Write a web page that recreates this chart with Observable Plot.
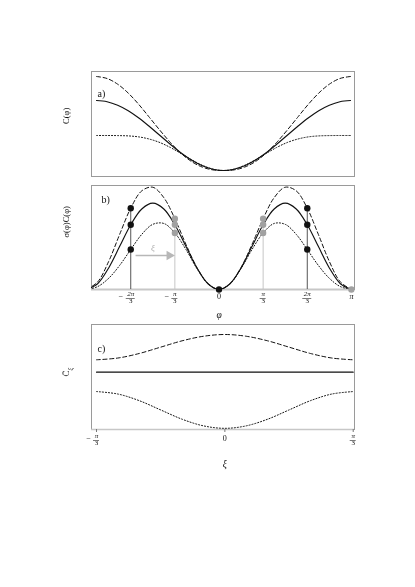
<!DOCTYPE html>
<html><head><meta charset="utf-8">
<script src="https://cdn.jsdelivr.net/npm/d3@7"></script>
<script src="https://cdn.jsdelivr.net/npm/@observablehq/plot@0.6"></script>
<style>
body{margin:0;background:#fff;}
#wrap{position:relative;width:415px;height:587px;overflow:hidden;filter:grayscale(1);}
#wrap > div{position:absolute;left:0;}
</style></head><body><div id="wrap"></div>
<script>
const PI = Math.PI;
const SERIF = "'Liberation Serif','DejaVu Serif',serif";

// ---------- panel a : C(phi), sampled every pi/12 from -pi to pi ----------
const phiSteps = [-12,-11,-10,-9,-8,-7,-6,-5,-4,-3,-2,-1,0,1,2,3,4,5,6,7,8,9,10,11,12]; // units of pi/12
const aDashed = [100,98,92.3,83.4,72,59.1,46.1,33.8,23.1,14.8,9.4,6.6,6,6.6,9.4,14.8,23.1,33.8,46.1,59.1,72,83.4,92.3,98,100];
const aSolid  = [76,74.8,71.3,65.8,58.5,50,41,32,23.5,16.2,10.7,7.2,6,7.2,10.7,16.2,23.5,32,41,50,58.5,65.8,71.3,74.8,76];
const aDotted = [41,41,40.9,40.6,39.6,37.4,33.9,28.9,22.9,16.7,11.2,7.4,6,7.4,11.2,16.7,22.9,28.9,33.9,37.4,39.6,40.6,40.9,41,41];

// ---------- panel b : sigma(phi)C(phi) ----------
const bDashed = [0,0.088,0.325,0.64,0.942,1.143,1.185,1.064,0.82,0.525,0.255,0.067,0,0.067,0.255,0.525,0.82,1.064,1.185,1.143,0.942,0.64,0.325,0.088,0];
const bSolid  = [0,0.067,0.25,0.5,0.75,0.933,1,0.933,0.75,0.5,0.25,0.067,0,0.067,0.25,0.5,0.75,0.933,1,0.933,0.75,0.5,0.25,0.067,0];
const bDotted = [0,0.0335,0.13,0.28,0.463,0.639,0.755,0.765,0.655,0.465,0.243,0.067,0,0.067,0.243,0.465,0.655,0.765,0.755,0.639,0.463,0.28,0.13,0.0335,0];
// sampled points (x in units of pi/3)
const blackDotX = [-2,-2,-2,0,2,2,2];
const blackDotY = [0.942,0.75,0.463,0,0.942,0.75,0.463];
const greyDotX  = [-1,-1,-1,1,1,1,3];
const greyDotY  = [0.82,0.75,0.655,0.82,0.75,0.655,0];
const darkLineX = [-2,2], darkLineTop = [0.942,0.942];
const lightLineX = [-1,1], lightLineTop = [0.82,0.82];
const arrowFrom = -0.63, arrowTo = -0.375, arrowY = 0.394; // x in units of pi
const xiLabelX = -0.5, xiLabelY = 0.48;
// tick labels (units of pi/3)
const bFracTicks = [-2,-1,1,2];
const bFracNum   = ["2π","π","π","2π"];
const bFracSign  = ["−","−","",""];
const bPlainTicks = [0,3];
const bPlainText  = ["0","π"];

// ---------- panel c : C-bar_xi, xi sampled every pi/18 from -pi/3 to pi/3 ----------
const xiSteps = [-6,-5,-4,-3,-2,-1,0,1,2,3,4,5,6]; // units of pi/18
const cDashed = [0.542,0.548,0.5635,0.585,0.6065,0.622,0.628,0.622,0.6065,0.585,0.5635,0.548,0.542];
const cSolid  = [0.5,0.5,0.5,0.5,0.5,0.5,0.5,0.5,0.5,0.5,0.5,0.5,0.5];
const cDotted = [0.434,0.4256,0.403,0.3715,0.340,0.3174,0.309,0.3174,0.340,0.3715,0.403,0.4256,0.434];
const cFracTicks = [-1,1];
const cFracSign = ["−",""];
const cPlainTicks = [0];
const cPlainText = ["0"];

// ---------- build tables ----------
const tableA = phiSteps.map((k,i)=>({x:k*PI/12, dashed:aDashed[i], solid:aSolid[i], dotted:aDotted[i]}));
const tableB = phiSteps.map((k,i)=>({x:k*PI/12, dashed:bDashed[i], solid:bSolid[i], dotted:bDotted[i]}));
const tableC = xiSteps.map((k,i)=>({x:k*PI/18, dashed:cDashed[i], solid:cSolid[i], dotted:cDotted[i]}));
const blackDots = blackDotX.map((v,i)=>({x:v*PI/3, y:blackDotY[i]}));
const greyDots = greyDotX.map((v,i)=>({x:v*PI/3, y:greyDotY[i]}));
const darkLines = darkLineX.map((v,i)=>({x:v*PI/3, top:darkLineTop[i]}));
const lightLines = lightLineX.map((v,i)=>({x:v*PI/3, top:lightLineTop[i]}));
const bFrac = bFracTicks.map((v,i)=>({x:v*PI/3, num:bFracNum[i], sign:bFracSign[i]}));
const bPlain = bPlainTicks.map((v,i)=>({x:v*PI/3, t:bPlainText[i]}));
const cFrac = cFracTicks.map((v,i)=>({x:v*PI/3, num:"π", sign:cFracSign[i]}));
const cPlain = cPlainTicks.map((v,i)=>({x:v*PI/3, t:cPlainText[i]}));

const INK = "#111";
const DASH = "4,2.6";
const DOT = "1.1,1.9";
function curves(table){
  return [
    Plot.line(table,{x:"x",y:"dashed",stroke:INK,strokeWidth:1,strokeDasharray:DASH,curve:"catmull-rom",clip:true}),
    Plot.line(table,{x:"x",y:"solid",stroke:INK,strokeWidth:1.15,curve:"catmull-rom",clip:true}),
    Plot.line(table,{x:"x",y:"dotted",stroke:INK,strokeWidth:1,strokeDasharray:DOT,curve:"catmull-rom",clip:true})
  ];
}
function fracLabels(data, dyNum, dyDen){
  const longNeg = data.filter(d=>d.sign && d.num.length>1);
  const shortNeg = data.filter(d=>d.sign && d.num.length===1);
  return [
    Plot.text(data,{x:"x",text:"num",frameAnchor:"bottom",dy:dyNum,fontSize:7,fontStyle:"italic",fill:INK}),
    Plot.text(data,{x:"x",text:()=>"3",frameAnchor:"bottom",dy:dyDen,fontSize:7,fill:INK}),
    Plot.text(longNeg,{x:"x",text:"sign",frameAnchor:"bottom",dy:(dyNum+dyDen)/2,dx:-10,fontSize:8,fill:INK}),
    Plot.text(shortNeg,{x:"x",text:"sign",frameAnchor:"bottom",dy:(dyNum+dyDen)/2,dx:-8,fontSize:8,fill:INK})
  ];
}
function fracBars(plot, data, yPix){
  const sx = plot.scale("x");
  const svg = d3.select(plot);
  data.forEach(d=>{
    const cx = sx.apply(d.x), hw = d.num.length>1 ? 4.5 : 3;
    svg.append("line").attr("x1",cx-hw).attr("x2",cx+hw).attr("y1",yPix).attr("y2",yPix)
      .attr("stroke","#222").attr("stroke-width",0.6);
  });
}
const baseStyle = {fontFamily:SERIF, background:"transparent", color:INK, overflow:"visible"};
const wrap = document.getElementById("wrap");
function place(node, top){ const d=document.createElement("div"); d.style.top=top+"px"; d.appendChild(node); wrap.appendChild(d); }

// ---- panel a ----
const plotA = Plot.plot({
  width:415, height:200, marginLeft:91, marginRight:61, marginTop:71, marginBottom:24,
  x:{domain:[-1.0394*PI, 1.0315*PI], axis:null},
  y:{domain:[0,105], axis:null},
  style:baseStyle,
  marks:[
    Plot.frame({stroke:"#9a9a9a"}),
    ...curves(tableA),
    Plot.text(["a)"],{frameAnchor:"top-left",dx:6,dy:18,textAnchor:"start",fontSize:10,fill:INK}),
    Plot.text(["C(φ)"],{frameAnchor:"left",dx:-25,rotate:-90,fontSize:8.5,fill:INK})
  ]
});
place(plotA, 0);

// ---- panel b ----
const plotB = Plot.plot({
  width:415, height:145, marginLeft:91, marginRight:61, marginTop:5, marginBottom:36,
  x:{domain:[-0.963*PI, 1.0234*PI], axis:null},
  y:{domain:[0,1.205], axis:null},
  style:baseStyle,
  marks:[
    Plot.frame({stroke:"#9a9a9a"}),
    Plot.ruleY([0],{stroke:"#c4c8c6",strokeWidth:2}),
    Plot.ruleX(lightLines,{x:"x",y1:0,y2:"top",stroke:"#c2c7c4",strokeWidth:1}),
    Plot.ruleX(darkLines,{x:"x",y1:0,y2:"top",stroke:"#555",strokeWidth:1}),
    ...curves(tableB),
    Plot.link([0],{x1:()=>arrowFrom*PI,x2:()=>arrowTo*PI,y1:()=>arrowY,y2:()=>arrowY,stroke:"#b3b8b5",strokeWidth:1.6}),
    Plot.dot([0],{x:()=>arrowTo*PI,y:()=>arrowY,symbol:"triangle",rotate:90,r:3.6,fill:"#b3b8b5"}),
    Plot.text(["ξ"],{x:()=>xiLabelX*PI,y:()=>xiLabelY,fill:"#aab0ad",fontSize:9,fontStyle:"italic"}),
    Plot.dot(greyDots,{x:"x",y:"y",r:3.2,fill:"#9ba39f"}),
    Plot.dot(blackDots,{x:"x",y:"y",r:3.2,fill:INK}),
    ...fracLabels(bFrac,6,13),
    Plot.text(bPlain.filter(d=>d.t==="0"),{x:"x",text:"t",frameAnchor:"bottom",dy:9,fontSize:8,fill:INK}),
    Plot.text(bPlain.filter(d=>d.t!=="0"),{x:"x",text:"t",frameAnchor:"bottom",dy:9,fontSize:8,fontStyle:"italic",fill:INK}),
    Plot.text(["φ"],{x:()=>0,frameAnchor:"bottom",dy:28,fontSize:9.5,fontStyle:"italic",fill:INK}),
    Plot.text(["b)"],{frameAnchor:"top-left",dx:10,dy:10,textAnchor:"start",fontSize:10,fill:INK}),
    Plot.text(["σ(φ)C(φ)"],{frameAnchor:"left",dx:-25,rotate:-90,fontSize:8.5,fill:INK})
  ]
});
fracBars(plotB, bFrac, 109 + 9.5);
place(plotB, 180);

// ---- panel c ----
const plotC = Plot.plot({
  width:415, height:160, marginLeft:91, marginRight:61, marginTop:4, marginBottom:51,
  x:{domain:[-1.039*PI/3, 1.010*PI/3], axis:null},
  y:{domain:[0.305,0.662], axis:null},
  style:baseStyle,
  marks:[
    Plot.frame({stroke:"#9a9a9a"}),
    Plot.ruleY([0.305],{stroke:"#c4c8c6",strokeWidth:1.5}),
    Plot.axisX([-PI/3,0,PI/3],{tickSize:3,tickFormat:()=>"",stroke:"#777",label:null}),
    ...curves(tableC),
    ...fracLabels(cFrac,8,15),
    Plot.text(cPlain,{x:"x",text:"t",frameAnchor:"bottom",dy:11,fontSize:8,fill:INK}),
    Plot.text(["ξ"],{x:()=>0,frameAnchor:"bottom",dy:37,fontSize:9.5,fontStyle:"italic",fill:INK}),
    Plot.text(["c)"],{frameAnchor:"top-left",dx:6,dy:20,textAnchor:"start",fontSize:10,fill:INK})
  ]
});
fracBars(plotC, cFrac, 105 + 4 + 11.5);
// y label C-bar with subscript xi
{
  const t = d3.select(plotC).append("text")
    .attr("transform","translate(69,52) rotate(-90)")
    .attr("text-anchor","middle").attr("font-size",9).attr("font-family",SERIF).attr("fill",INK);
  t.append("tspan").text("C\u0304");
  t.append("tspan").attr("dy",2.5).attr("font-size",6.5).attr("font-style","italic").text("ξ");
}
place(plotC, 320);
</script>
</body></html>
